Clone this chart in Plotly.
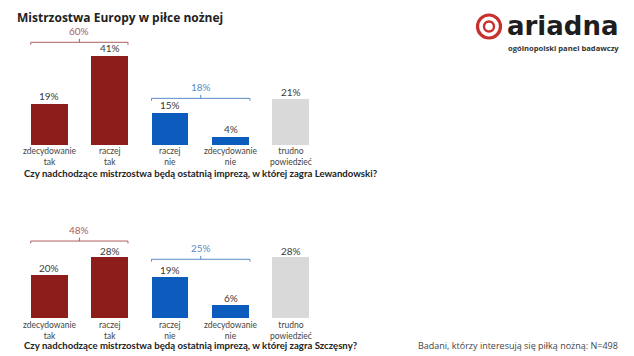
import plotly.graph_objects as go

W, H = 634, 356

categories = ["zdecydowanie<br>tak", "raczej<br>tak", "raczej<br>nie", "zdecydowanie<br>nie", "trudno<br>powiedzieć"]
lewandowski = [19, 41, 15, 4, 21]
szczesny = [20, 28, 19, 6, 28]
net_yes = [60, 48]
net_no = [18, 25]
questions = [
    "Czy nadchodzące mistrzostwa będą ostatnią imprezą, w której zagra Lewandowski?",
    "Czy nadchodzące mistrzostwa będą ostatnią imprezą, w której zagra Szczęsny?",
]
title = "Mistrzostwa Europy w piłce nożnej"
footer = "Badani, którzy interesują się piłką nożną: N=498"

bar_colors = ["#8c1d1b", "#8c1d1b", "#0b5cbd", "#0b5cbd", "#d9d9d9"]
red_br = "#a8605e"
blue_br = "#5b8ac4"
txt = "#3a3a3a"
FONT = "Open Sans"
LFONT = "Lato"
YMAX = 60

def px_x(p):
    return p / W

def px_y(p):
    return 1 - p / H

fig = go.Figure()

xdom = [px_x(19.3), px_x(321.2)]
panels = [(145.0, 2.19), (318.3, 2.17)]
label_mid = [156.0, 330.0]
series = [lewandowski, szczesny]
br_levels = [(46.9, 21.3), (35.6, 27.2)]
br_text = [(52.0, 26.6), (40.7, 32.3)]

xpos = list(range(len(categories)))
for i, (vals, (base, scale)) in enumerate(zip(series, panels)):
    top = base - YMAX * scale
    xa = "x" if i == 0 else "x2"
    ya = "y" if i == 0 else "y2"
    fig.add_trace(go.Bar(
        x=xpos, y=vals, marker=dict(color=bar_colors, line=dict(width=0)),
        width=0.61, xaxis=xa, yaxis=ya, hoverinfo="skip", showlegend=False,
    ))
    for xv, v in zip(xpos, vals):
        fig.add_annotation(x=xv, y=v, xref=xa, yref=ya, text=f"{v}%", showarrow=False,
                           yanchor="bottom", yshift=-1, font=dict(size=10, color=txt, family=LFONT))
    for xv, cat in zip(xpos, categories):
        fig.add_annotation(x=xv, y=px_y(label_mid[i]), xref=xa, yref="paper", text=cat,
                           showarrow=False, yanchor="middle",
                           font=dict(size=8.5, color="#444", family=LFONT))
    axkey = "" if i == 0 else "2"
    fig.update_layout(**{
        f"xaxis{axkey}": dict(domain=xdom, range=[-0.5, 4.5], visible=False,
                              anchor=ya, fixedrange=True),
        f"yaxis{axkey}": dict(domain=[px_y(base), px_y(top)], range=[0, YMAX], visible=False,
                              anchor=xa, fixedrange=True),
    })
    for (x0, x1, lvl, tl, lab, col) in [
        (-0.31, 1.30, br_levels[i][0], br_text[i][0], net_yes[i], red_br),
        (1.69, 3.32, br_levels[i][1], br_text[i][1], net_no[i], blue_br),
    ]:
        d = 1.1
        fig.add_shape(type="line", xref=xa, yref=ya, x0=x0, x1=x1, y0=lvl, y1=lvl,
                      line=dict(color=col, width=1))
        fig.add_shape(type="line", xref=xa, yref=ya, x0=x0, x1=x0, y0=lvl, y1=lvl - d,
                      line=dict(color=col, width=1))
        fig.add_shape(type="line", xref=xa, yref=ya, x0=x1, x1=x1, y0=lvl, y1=lvl - d,
                      line=dict(color=col, width=1))
        xm = (x0 + x1) / 2
        fig.add_shape(type="line", xref=xa, yref=ya, x0=xm, x1=xm, y0=lvl, y1=lvl + 1.6,
                      line=dict(color=col, width=1))
        fig.add_annotation(x=xm, y=tl, xref=xa, yref=ya, text=f"{lab}%", showarrow=False,
                           font=dict(size=10, color=col, family=LFONT))

for q, ypx in zip(questions, [173.3, 345.7]):
    fig.add_annotation(x=px_x(22), y=px_y(ypx), xref="paper", yref="paper", text=f"<b>{q}</b>",
                       showarrow=False, xanchor="left", yanchor="middle",
                       font=dict(size=9.6, color="#222", family=LFONT))

fig.add_annotation(x=px_x(15), y=px_y(17.5), xref="paper", yref="paper", text=f"<b>{title}</b>",
                   showarrow=False, xanchor="left", yanchor="middle",
                   font=dict(size=12, color="#222", family=FONT))

fig.add_annotation(x=px_x(620), y=px_y(345.7), xref="paper", yref="paper", text=footer,
                   showarrow=False, xanchor="right", yanchor="middle",
                   font=dict(size=9, color="#444", family=FONT))

# logo
cx, cy = 489, 26.5
for r, wdt in [(11.5, 3.2), (5, 2.4)]:
    fig.add_shape(type="circle", xref="paper", yref="paper",
                  x0=px_x(cx - r), x1=px_x(cx + r), y0=px_y(cy + r), y1=px_y(cy - r),
                  line=dict(color="#c8302b", width=wdt))
fig.add_annotation(x=px_x(505), y=px_y(25.5), xref="paper", yref="paper", text="<b>ariadna</b>",
                   showarrow=False, xanchor="left", yanchor="middle",
                   font=dict(size=26, color="#1e1e1e", family="DejaVu Sans"))
fig.add_annotation(x=px_x(621), y=px_y(47.7), xref="paper", yref="paper",
                   text="<b>ogólnopolski panel badawczy</b>",
                   showarrow=False, xanchor="right", yanchor="middle",
                   font=dict(size=7.6, color="#333", family=FONT))

fig.update_layout(width=W, height=H, margin=dict(l=0, r=0, t=0, b=0),
                  paper_bgcolor="white", plot_bgcolor="white", bargap=0,
                  font=dict(family=FONT))

fig.write_html("out.html", config={"displayModeBar": False},
               post_script="document.body.style.margin='0';document.body.style.overflow='hidden';")
